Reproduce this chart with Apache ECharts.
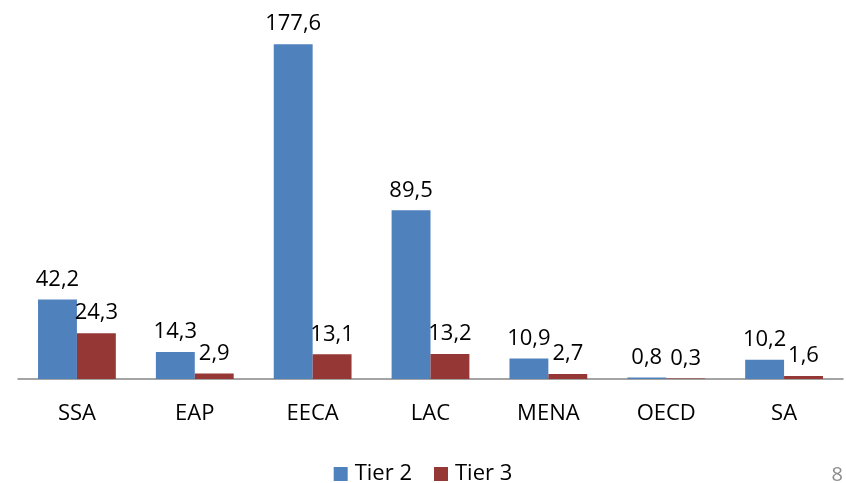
<!DOCTYPE html>
<html>
<head>
<meta charset="utf-8">
<script src="https://cdn.jsdelivr.net/npm/echarts@6/dist/echarts.min.js"></script>
<style>
  html, body { margin: 0; padding: 0; background: #fff; }
  #chart { width: 846px; height: 483px; }
</style>
</head>
<body>
<div id="chart"></div>
<script>
// Regions and their values per tier
const categories = ['SSA', 'EAP', 'EECA', 'LAC', 'MENA', 'OECD', 'SA'];
const tier2 = [42.2, 14.3, 177.6, 89.5, 10.9, 0.8, 10.2];
const tier3 = [24.3, 2.9, 13.1, 13.2, 2.7, 0.3, 1.6];
const seriesNames = ['Tier 2', 'Tier 3'];

const fontFamily = '"Open Sans", sans-serif';
const fmt = v => String(v.value).replace('.', ',');

const chart = echarts.init(document.getElementById('chart'));
chart.setOption({
  animation: false,
  grid: { left: 18, right: 3, top: 2, bottom: 104, containLabel: false },
  xAxis: {
    type: 'category',
    data: categories,
    axisLine: { lineStyle: { color: '#868686', width: 1.5 } },
    axisTick: { show: false },
    axisLabel: { color: '#000', fontSize: 22, fontFamily, margin: 24 }
  },
  yAxis: {
    type: 'value',
    min: 0,
    max: 200,
    show: false
  },
  legend: {
    top: 458,
    left: 'center',
    itemWidth: 14,
    itemHeight: 14,
    itemGap: 22,
    icon: 'rect',
    textStyle: { color: '#000', fontSize: 22, fontFamily, padding: [0, 0, 0, 2] },
    data: seriesNames
  },
  series: [
    {
      name: seriesNames[0],
      type: 'bar',
      data: tier2,
      barGap: '0%',
      barCategoryGap: '34%',
      itemStyle: { color: '#4F81BD' },
      label: { show: true, position: 'top', distance: 9, formatter: fmt, color: '#000', fontSize: 22, fontFamily }
    },
    {
      name: seriesNames[1],
      type: 'bar',
      data: tier3,
      barGap: '0%',
      barCategoryGap: '34%',
      itemStyle: { color: '#953735' },
      label: { show: true, position: 'top', distance: 9, formatter: fmt, color: '#000', fontSize: 22, fontFamily }
    }
  ],
  graphic: [
    {
      type: 'text',
      right: 3,
      top: 465,
      style: { text: '8', fontSize: 20, fontFamily, fill: '#8c8c8c' }
    }
  ]
});
</script>
</body>
</html>
